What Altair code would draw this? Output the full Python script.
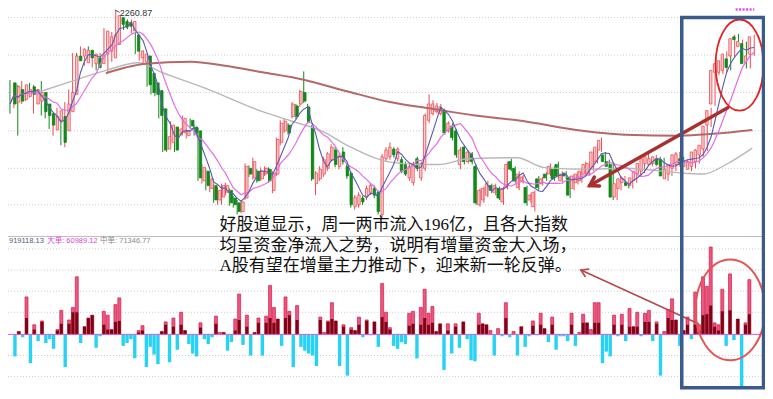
import math
import altair as alt
import pandas as pd
import numpy as np

# ---------------- data ----------------
OPEN = [2185,2165,2178,2168,2171,2181,2163,2166,2175,2163,2153,2136,2146,2150,2135,2155,2173,2213,2213,2206,
        2219,2205,2211,2205,2215,2218,2211,2225,2253,2249,2248,2239,2235,2211,2207,2213,2195,2185,2177,2158,
        2116,2123,2139,2131,2133,2130,2146,2139,2135,2083,2093,2075,2078,2063,2066,2071,2073,2065,2060,2051,
        2065,2096,2086,2093,2085,2090,2095,2073,2090,2123,2135,2141,2150,2161,2163,2175,2160,2138,2080,2085,
        2090,2096,2105,2115,2098,2113,2098,2091,2056,2058,2065,2066,2071,2075,2071,2048,2106,2108,2116,2106,
        2105,2100,2086,2081,2106,2086,2096,2146,2153,2155,2153,2156,2135,2140,2135,2100,2118,2103,2111,2098,
        2058,2063,2068,2078,2071,2075,2061,2076,2103,2096,2076,2083,2076,2063,2056,2085,2080,2090,2090,2095,
        2100,2083,2091,2086,2075,2081,2083,2090,2090,2095,2103,2115,2110,2103,2100,2066,2075,2081,2081,2078,
        2083,2090,2093,2101,2100,2101,2106,2105,2085,2090,2096,2100,2106,2098,2095,2098,2103,2110,2116,2141,
        2163,2196,2196,2198,2210,2213,2233,2223,2226,2206,2215]
CLOSE = [2163,2181,2166,2183,2178,2173,2178,2175,2155,2151,2141,2150,2156,2123,2163,2175,2213,2208,2220,2219,
         2211,2215,2201,2213,2239,2233,2235,2255,2246,2243,2244,2249,2218,2218,2215,2183,2175,2173,2151,2115,
         2129,2141,2115,2137,2148,2135,2140,2133,2086,2097,2078,2085,2063,2073,2078,2078,2060,2058,2051,2061,
         2098,2090,2103,2083,2093,2096,2083,2091,2126,2143,2145,2133,2163,2150,2176,2166,2145,2085,2091,2095,
         2105,2111,2118,2100,2108,2103,2088,2058,2066,2068,2061,2075,2078,2068,2051,2108,2115,2118,2110,2116,
         2093,2090,2098,2101,2096,2101,2151,2163,2163,2161,2160,2133,2143,2128,2110,2115,2103,2113,2103,2060,
         2073,2075,2080,2073,2078,2065,2075,2100,2095,2083,2090,2087,2060,2068,2071,2076,2085,2086,2098,2085,
         2088,2090,2088,2068,2088,2090,2093,2100,2101,2113,2118,2125,2103,2098,2066,2080,2085,2086,2078,2086,
         2093,2101,2106,2108,2106,2108,2100,2088,2095,2100,2110,2111,2101,2103,2103,2113,2115,2120,2140,2156,
         2198,2205,2208,2215,2201,2231,2230,2228,2205,2213,2233]
HIGH = [2188,2185,2183,2187,2181,2185,2183,2178,2187,2165,2155,2153,2159,2153,2165,2178,2216,2216,2223,2221,
        2223,2218,2213,2216,2242,2236,2238,2260.87,2255,2252,2251,2251,2238,2223,2219,2215,2198,2187,2179,2160,
        2133,2145,2141,2139,2151,2137,2148,2141,2138,2100,2095,2088,2080,2076,2080,2081,2075,2067,2063,2063,
        2101,2099,2107,2095,2097,2098,2097,2093,2128,2146,2148,2143,2165,2163,2178,2197,2163,2141,2093,2098,
        2108,2113,2121,2118,2111,2118,2101,2093,2068,2071,2067,2078,2080,2078,2073,2111,2118,2123,2118,2118,
        2108,2103,2101,2103,2108,2103,2153,2173,2167,2164,2163,2158,2145,2143,2137,2118,2120,2115,2113,2100,
        2075,2077,2083,2080,2080,2077,2077,2103,2106,2098,2093,2089,2078,2070,2073,2088,2087,2092,2101,2098,
        2103,2093,2093,2088,2090,2093,2096,2103,2103,2115,2121,2128,2113,2105,2102,2083,2088,2088,2083,2088,
        2096,2103,2108,2111,2108,2110,2108,2107,2098,2103,2113,2113,2108,2105,2106,2116,2118,2123,2143,2159,
        2201,2208,2211,2218,2213,2235,2236,2230,2228,2215,2235]
LOW = [2153,2159,2130,2163,2166,2170,2153,2163,2151,2148,2137,2130,2143,2120,2118,2151,2171,2205,2208,2203,
       2208,2201,2198,2200,2213,2195,2207,2223,2243,2240,2241,2237,2215,2208,2205,2181,2173,2171,2148,2113,
       2113,2121,2113,2128,2130,2127,2137,2130,2083,2080,2073,2071,2060,2058,2058,2068,2057,2055,2048,2049,
       2063,2087,2084,2081,2083,2088,2081,2070,2088,2120,2133,2131,2148,2147,2160,2164,2143,2083,2068,2083,
       2087,2093,2103,2097,2095,2100,2085,2055,2053,2055,2058,2063,2068,2065,2048,2045,2103,2105,2107,2103,
       2091,2088,2083,2078,2093,2083,2093,2143,2151,2153,2151,2131,2133,2125,2107,2095,2100,2101,2100,2058,
       2056,2060,2066,2070,2068,2063,2058,2074,2093,2081,2073,2080,2057,2060,2051,2073,2078,2083,2088,2083,
       2085,2080,2085,2065,2073,2079,2081,2088,2088,2093,2101,2113,2101,2095,2063,2063,2073,2079,2075,2075,
       2081,2088,2091,2099,2098,2098,2098,2086,2083,2088,2093,2098,2099,2095,2093,2096,2101,2108,2114,2139,
       2161,2193,2194,2196,2198,2211,2228,2221,2200,2200,2213]

# money flow: net (pink up / cyan down) and the dark "big order" part
FLOW_NET = [-23,3,-3,39,-30,10,-7,14,-9,-5,-15,5,25,-34,15,28,60,-9,8,17,
            20,-14,-2,24,20,5,31,38,-12,-9,-5,-25,4,9,-34,-13,-21,-31,3,13,
            -29,17,-16,23,4,-10,-20,-23,12,-5,-10,-3,19,2,2,-17,-8,16,42,-11,
            20,-22,2,17,-22,19,51,28,16,-12,39,24,-34,30,-13,-17,-20,-22,-33,18,
            2,14,33,14,-33,10,-43,7,4,18,-3,15,-1,13,-13,53,23,7,-12,-15,
            -8,-10,22,24,-25,28,47,22,29,3,11,-37,11,-20,11,-14,13,-5,-27,-28,
            22,11,10,4,-22,6,-2,33,-3,3,-22,8,-13,-2,14,-1,22,6,-8,18,
            -16,-2,-2,-7,22,-12,2,21,12,5,33,33,-30,-18,-23,20,-2,21,-7,27,
            8,23,-2,22,25,-7,13,-43,3,26,37,15,-12,4,18,-5,44,10,60,50,
            91,12,10,47,-12,63,-6,16,-55,12,57]
FLOW_BIG = [0,3,0,17,0,5,0,13,0,0,0,4,11,0,11,23,23,0,8,17,
            20,0,0,10,5,5,13,14,0,0,0,0,2,4,0,0,0,0,3,10,
            0,8,0,10,4,0,0,0,7,0,0,0,11,0,2,0,0,4,15,0,
            8,0,2,12,0,12,17,12,16,0,17,20,0,15,0,0,0,0,0,15,
            0,13,16,14,0,8,0,5,4,10,0,14,0,13,0,18,13,5,0,0,
            0,0,9,11,0,10,17,10,12,3,11,0,4,0,8,0,13,0,0,0,
            10,11,10,0,0,0,0,17,0,0,0,8,0,0,9,0,10,6,0,10,
            0,0,0,0,10,0,0,12,12,0,12,12,0,0,0,10,0,10,0,8,
            8,8,0,13,13,0,11,0,0,17,15,15,0,4,10,0,10,3,20,21,
            30,8,4,24,0,25,0,16,0,10,21]

# long moving averages (sparse readings: bar index, value)
GRAY_I = [7, 14.5, 24.5, 32.75, 38.75, 49.5, 64.5, 72, 79.5, 87, 96.25, 104.5, 109.5, 117, 129.5,
          136.25, 147, 157, 172, 177, 183.25, 189.5]
GRAY_V = [2175, 2185, 2198, 2206, 2196, 2180, 2155, 2145, 2135, 2118, 2103, 2100, 2100, 2106, 2107,
          2097, 2095, 2096, 2091, 2090, 2101, 2117]
BROWN_I = [24.5, 29.5, 34.5, 46.25, 54.5, 64.5, 75.25, 86.25, 97, 107.75, 118.75, 129.5, 146.25, 157,
           171.25, 179.5, 189.5]
BROWN_V = [2195, 2201, 2205, 2207, 2203, 2196, 2188, 2176, 2165, 2158, 2151, 2146, 2135, 2131,
           2130, 2132, 2136]

PRICE_GRID = [2253, 2214, 2175, 2135, 2096, 2058]
FLOW_GRID = [89, 67, 45, 23, -22, -44]

PEAK_LABEL = "2260.87"
HEADER = ["919118.13", "大单: 60989.12", "中单: 71346.77"]
TEXT_LINES = ["好股道显示，周一两市流入196亿，且各大指数",
              "均呈资金净流入之势，说明有增量资金大入场，",
              "A股有望在增量主力推动下，迎来新一轮反弹。"]

# ---------------- layout ----------------
W, H = 757, 383
REF_W, REF_H = 773, 399
SX, SY = W / REF_W, H / REF_H

XI = alt.Scale(domain=[-0.5, 192.75], nice=False, zero=False)
YP = alt.Scale(domain=[1864, 2263], nice=False, zero=False)
YF = alt.Scale(domain=[-59, 340], nice=False, zero=False)
XA = alt.Scale(domain=[0, REF_W], nice=False, zero=False)
YA = alt.Scale(domain=[0, REF_H], nice=False, zero=False, reverse=True)

RED_EDGE = "#ee4b52"
RED_FILL = "#fbcfd3"
GREEN = "#12881a"
CN_FONT = "Liberation Serif, Noto Sans CJK SC"
SANS = "Liberation Sans, Noto Sans CJK SC"

n = len(CLOSE)
candles = pd.DataFrame({"i": np.arange(n), "o": OPEN, "c": CLOSE, "h": HIGH, "l": LOW})
candles["dir"] = np.where(candles["c"] >= candles["o"], "up", "down")

flow = pd.DataFrame({"i": np.arange(n), "net": FLOW_NET, "big": FLOW_BIG})
flow["z"] = 0

xi = alt.X("i:Q", scale=XI, axis=None)

layers = []

# grid lines
layers.append(alt.Chart(pd.DataFrame({"v": PRICE_GRID})).mark_rule(
    color="#cccccc", strokeDash=[1, 2], strokeWidth=1).encode(
    y=alt.Y("v:Q", scale=YP, axis=None)))
layers.append(alt.Chart(pd.DataFrame({"v": FLOW_GRID})).mark_rule(
    color="#cccccc", strokeDash=[1, 2], strokeWidth=1).encode(
    y=alt.Y("v:Q", scale=YF, axis=None)))
# panel divider
layers.append(alt.Chart(pd.DataFrame({"y": [238]})).mark_rule(
    color="#bdbdbd", strokeWidth=1).encode(y=alt.Y("y:Q", scale=YA, axis=None)))

# candles
dir_stroke = alt.Scale(domain=["up", "down"], range=[RED_EDGE, GREEN])
dir_fill = alt.Scale(domain=["up", "down"], range=[RED_FILL, GREEN])
layers.append(alt.Chart(candles).mark_rule(strokeWidth=1).encode(
    x=xi, y=alt.Y("l:Q", scale=YP, axis=None), y2="h:Q",
    stroke=alt.Stroke("dir:N", scale=dir_stroke, legend=None)))
layers.append(alt.Chart(candles).mark_bar(size=2.4, strokeWidth=0.8, orient="vertical").encode(
    x=xi, y=alt.Y("o:Q", scale=YP, axis=None), y2="c:Q",
    fill=alt.Fill("dir:N", scale=dir_fill, legend=None),
    stroke=alt.Stroke("dir:N", scale=dir_stroke, legend=None)))

# long MAs
layers.append(alt.Chart(pd.DataFrame({"i": GRAY_I, "v": GRAY_V})).mark_line(
    color="#b8b8b8", strokeWidth=1.4, interpolate="monotone").encode(
    x=xi, y=alt.Y("v:Q", scale=YP, axis=None)))
layers.append(alt.Chart(pd.DataFrame({"i": BROWN_I, "v": BROWN_V})).mark_line(
    color="#b56868", strokeWidth=2, interpolate="monotone").encode(
    x=xi, y=alt.Y("v:Q", scale=YP, axis=None)))

# short MAs (rolling means of the closes)
ma = alt.Chart(candles).transform_window(
    ma5="mean(c)", frame=[-4, 0], sort=[alt.SortField("i")]
).transform_window(
    ma10="mean(c)", frame=[-9, 0], sort=[alt.SortField("i")])
layers.append(ma.mark_line(color="#e46de4", strokeWidth=1.2).encode(
    x=xi, y=alt.Y("ma10:Q", scale=YP, axis=None)))
layers.append(ma.mark_line(color="#5a5ab0", strokeWidth=1.1).encode(
    x=xi, y=alt.Y("ma5:Q", scale=YP, axis=None)))

# money-flow bars
layers.append(alt.Chart(flow).transform_filter("datum.net < 0").mark_bar(
    size=3.4, color="#27d2f4", orient="vertical").encode(
    x=xi, y=alt.Y("net:Q", scale=YF, axis=None), y2="z:Q"))
layers.append(alt.Chart(flow).transform_filter("datum.net > 0").mark_bar(
    size=3.0, fill="#ee5680", stroke="#cf1c4c", strokeWidth=0.7, orient="vertical").encode(
    x=xi, y=alt.Y("net:Q", scale=YF, axis=None), y2="z:Q"))
layers.append(alt.Chart(flow).transform_filter("datum.big > 0").mark_bar(
    size=3.0, color="#7d0414", orient="vertical").encode(
    x=xi, y=alt.Y("big:Q", scale=YF, axis=None), y2="z:Q"))
layers.append(alt.Chart(pd.DataFrame({"v": [0]})).mark_rule(
    color="#e05ad0", strokeWidth=1).encode(y=alt.Y("v:Q", scale=YF, axis=None)))

# ---------------- annotations (reference pixel coordinates) ----------------
xa = lambda f: alt.X(f, scale=XA, axis=None)
ya = lambda f: alt.Y(f, scale=YA, axis=None)

# peak label
layers.append(alt.Chart(pd.DataFrame({"x": [109, 114], "y": [2, 4.5]})).mark_line(
    color="#555555", strokeWidth=1).encode(x=xa("x:Q"), y=ya("y:Q")))
layers.append(alt.Chart(pd.DataFrame({"x": [114], "y": [5.5], "t": [PEAK_LABEL]})).mark_text(
    align="left", baseline="middle", font=SANS, fontSize=9, color="#333333").encode(
    x=xa("x:Q"), y=ya("y:Q"), text="t:N"))

# header of lower panel
hdr = pd.DataFrame({"x": [1, 40, 94], "y": [243, 243, 243], "t": HEADER,
                    "c": ["#4d5a78", "#e040e0", "#8a8a8a"]})
layers.append(alt.Chart(hdr).mark_text(
    align="left", baseline="middle", font=SANS, fontSize=7.5).encode(
    x=xa("x:Q"), y=ya("y:Q"), text="t:N", color=alt.Color("c:N", scale=None)))

# magenta dashes top right
layers.append(alt.Chart(pd.DataFrame({"x": [743], "x2": [762], "y": [1.5]})).mark_rule(
    color="#ee44ee", strokeWidth=2.5, strokeDash=[2, 1.5]).encode(
    x=xa("x:Q"), x2="x2:Q", y=ya("y:Q")))

# annotation text
txt = pd.DataFrame({"x": [216, 216, 216], "y": [226, 247.5, 269], "t": TEXT_LINES})
layers.append(alt.Chart(txt).mark_text(
    align="left", baseline="middle", font=CN_FONT, fontSize=17, color="#111111").encode(
    x=xa("x:Q"), y=ya("y:Q"), text="t:N"))

# arrows
def arrow_rows(name, tail, tip, head_len, spread):
    ang = math.atan2(tail[1] - tip[1], tail[0] - tip[0])
    arms = [(tip[0] + head_len * math.cos(ang + s * math.radians(spread)),
             tip[1] + head_len * math.sin(ang + s * math.radians(spread))) for s in (1, -1)]
    rows = [(name + "_s", 0, tail[0], tail[1]), (name + "_s", 1, tip[0], tip[1]),
            (name + "_h", 0, arms[0][0], arms[0][1]), (name + "_h", 1, tip[0], tip[1]),
            (name + "_h", 2, arms[1][0], arms[1][1])]
    return pd.DataFrame(rows, columns=["seg", "k", "x", "y"])

up_arrow = arrow_rows("a1", (735, 104), (594, 185), 10, 32)
lo_arrow = arrow_rows("a2", (705, 329), (585, 273), 8, 32)
layers.append(alt.Chart(up_arrow).mark_line(color="#a8302e", strokeWidth=3.5, strokeCap="round").encode(
    x=xa("x:Q"), y=ya("y:Q"), detail="seg:N", order="k:Q"))
layers.append(alt.Chart(lo_arrow).mark_line(color="#b84848", strokeWidth=1.6, strokeCap="round").encode(
    x=xa("x:Q"), y=ya("y:Q"), detail="seg:N", order="k:Q"))

# ellipses
def ellipse_path(rx, ry):
    rx, ry = rx * SX, ry * SY
    return f"M {-rx:.2f} 0 A {rx:.2f} {ry:.2f} 0 1 1 {rx:.2f} 0 A {rx:.2f} {ry:.2f} 0 1 1 {-rx:.2f} 0 Z"

layers.append(alt.Chart(pd.DataFrame({"x": [747], "y": [59.5]})).mark_point(
    shape=ellipse_path(24.5, 47.5), size=4, filled=False, opacity=1,
    stroke="#e32222", strokeWidth=1.8).encode(x=xa("x:Q"), y=ya("y:Q")))
layers.append(alt.Chart(pd.DataFrame({"x": [737.5], "y": [314.5]})).mark_point(
    shape=ellipse_path(35.5, 52.5), size=4, filled=False, opacity=1,
    stroke="#e65454", strokeWidth=2).encode(x=xa("x:Q"), y=ya("y:Q")))

# blue frame
layers.append(alt.Chart(pd.DataFrame({"x": [688], "x2": [771.5], "y": [10], "y2": [395.5]})).mark_rect(
    fillOpacity=0, stroke="#3b5b8c", strokeWidth=3.5).encode(
    x=xa("x:Q"), x2="x2:Q", y=ya("y:Q"), y2="y2:Q"))

chart = alt.layer(*layers).resolve_scale(
    x="independent", y="independent", color="independent",
    fill="independent", stroke="independent"
).properties(width=W, height=H, autosize="none", padding=0).configure_view(stroke=None)

chart.save("out.html", embed_options={"renderer": "svg", "actions": False})
